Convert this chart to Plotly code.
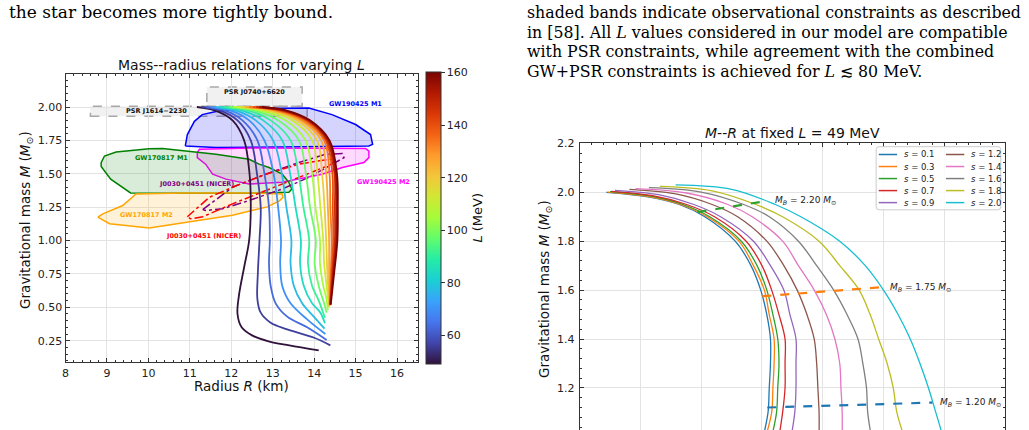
import plotly.graph_objects as go
from plotly.colors import sample_colorscale

W, H = 1029, 430


def fx(p):
    return p / W


def fy(p):
    return 1 - p / H


# ------------------------------------------------------------------
# Left panel: mass-radius curves for varying L
# ------------------------------------------------------------------
L_values = [49, 56, 63, 70, 77, 84, 91, 98, 105, 112, 119, 126, 133, 140, 147, 154, 160]
L_min, L_max = 49, 160

curve_R = [
    [11.17, 11.60, 12.03, 12.31, 12.44, 12.47, 12.43, 12.31, 12.19, 12.15, 12.25, 12.50, 12.90, 13.40, 14.11],
    [11.29, 11.72, 12.15, 12.47, 12.62, 12.71, 12.68, 12.64, 12.63, 12.71, 12.95, 13.35, 14.00, 14.39],
    [11.40, 11.84, 12.27, 12.63, 12.80, 12.91, 12.93, 12.91, 12.95, 13.07, 13.35, 13.83, 14.30],
    [11.51, 11.97, 12.43, 12.80, 13.02, 13.13, 13.20, 13.18, 13.23, 13.43, 13.83, 14.27],
    [11.62, 12.10, 12.59, 13.01, 13.22, 13.33, 13.45, 13.43, 13.51, 13.71, 13.99, 14.25],
    [11.73, 12.25, 12.77, 13.23, 13.42, 13.55, 13.68, 13.66, 13.75, 13.95, 14.15, 14.26],
    [11.84, 12.40, 12.95, 13.43, 13.62, 13.74, 13.88, 13.85, 13.95, 14.11, 14.26],
    [11.95, 12.54, 13.13, 13.63, 13.80, 13.90, 14.04, 14.01, 14.11, 14.24, 14.30],
    [12.05, 12.68, 13.31, 13.79, 13.95, 14.03, 14.14, 14.14, 14.22, 14.30, 14.33],
    [12.15, 12.81, 13.47, 13.95, 14.08, 14.15, 14.22, 14.24, 14.30, 14.36],
    [12.25, 12.92, 13.58, 14.07, 14.19, 14.25, 14.29, 14.32, 14.37],
    [12.34, 13.01, 13.67, 14.17, 14.29, 14.33, 14.36, 14.36, 14.37],
    [12.43, 13.09, 13.74, 14.24, 14.37, 14.39, 14.42, 14.40, 14.38],
    [12.52, 13.16, 13.80, 14.28, 14.44, 14.45, 14.46, 14.42, 14.38],
    [12.60, 13.22, 13.84, 14.31, 14.49, 14.50, 14.50, 14.44, 14.39],
    [12.67, 13.27, 13.87, 14.34, 14.52, 14.54, 14.53, 14.46, 14.39],
    [12.74, 13.32, 13.90, 14.37, 14.55, 14.57, 14.56, 14.48, 14.40],
]
curve_M = [
    [2.00, 1.975, 1.90, 1.75, 1.50, 1.25, 1.00, 0.80, 0.60, 0.45, 0.35, 0.29, 0.245, 0.215, 0.178],
    [2.00, 1.975, 1.90, 1.75, 1.50, 1.25, 1.00, 0.75, 0.56, 0.46, 0.385, 0.335, 0.272, 0.215],
    [2.00, 1.975, 1.90, 1.75, 1.50, 1.25, 1.00, 0.83, 0.66, 0.53, 0.43, 0.35, 0.255],
    [2.00, 1.975, 1.90, 1.75, 1.50, 1.25, 1.00, 0.83, 0.66, 0.53, 0.41, 0.30],
    [2.00, 1.975, 1.90, 1.75, 1.50, 1.25, 1.00, 0.83, 0.66, 0.53, 0.43, 0.34],
    [2.00, 1.975, 1.90, 1.75, 1.50, 1.25, 1.00, 0.83, 0.66, 0.53, 0.46, 0.38],
    [2.00, 1.975, 1.90, 1.75, 1.50, 1.25, 1.00, 0.83, 0.66, 0.55, 0.42],
    [2.00, 1.975, 1.90, 1.75, 1.50, 1.25, 1.00, 0.83, 0.66, 0.53, 0.46],
    [2.00, 1.975, 1.90, 1.75, 1.50, 1.25, 1.00, 0.83, 0.66, 0.56, 0.48],
    [2.00, 1.975, 1.90, 1.75, 1.50, 1.25, 1.00, 0.83, 0.66, 0.50],
    [2.00, 1.975, 1.90, 1.75, 1.50, 1.25, 1.00, 0.75, 0.51],
    [2.00, 1.975, 1.90, 1.75, 1.50, 1.25, 1.00, 0.75, 0.51],
    [2.00, 1.975, 1.90, 1.75, 1.50, 1.25, 1.00, 0.75, 0.52],
    [2.00, 1.975, 1.90, 1.75, 1.50, 1.25, 1.00, 0.75, 0.52],
    [2.00, 1.975, 1.90, 1.75, 1.50, 1.25, 1.00, 0.75, 0.52],
    [2.00, 1.975, 1.90, 1.75, 1.50, 1.25, 1.00, 0.75, 0.52],
    [2.00, 1.975, 1.90, 1.75, 1.50, 1.25, 1.00, 0.75, 0.52],
]

# observational constraints (R in km, M in Msun)
psr_j1614_R = [8.60, 13.83]
psr_j1614_M = [1.93, 2.005]
psr_j0740_R = [11.41, 13.71]
psr_j0740_M = [2.005, 2.15]

gw190425_m1_R = [10.89, 10.94, 11.11, 11.30, 11.63, 12.27, 13.87, 14.43, 15.00, 15.36, 15.41, 15.32, 13.23, 11.62, 10.89]
gw190425_m1_M = [1.708, 1.794, 1.893, 1.943, 1.967, 1.987, 1.993, 1.943, 1.869, 1.794, 1.720, 1.708, 1.700, 1.696, 1.708]

gw190425_m2_R = [11.18, 11.23, 12.51, 15.24, 15.32, 15.32, 15.20, 14.68, 14.19, 13.23, 12.43, 11.87, 11.55, 11.38, 11.18, 11.18]
gw190425_m2_M = [1.659, 1.683, 1.694, 1.690, 1.670, 1.621, 1.584, 1.547, 1.497, 1.436, 1.423, 1.460, 1.497, 1.572, 1.621, 1.659]

gw170817_m1_R = [8.86, 8.94, 9.22, 10.02, 10.34, 11.14, 11.63, 12.43, 12.67, 12.91, 13.23, 13.39, 13.46, 13.39, 12.43, 9.57, 9.09, 8.86, 8.86]
gw170817_m1_M = [1.584, 1.633, 1.663, 1.688, 1.690, 1.666, 1.646, 1.609, 1.572, 1.547, 1.497, 1.436, 1.386, 1.362, 1.354, 1.357, 1.460, 1.555, 1.584]

gw170817_m2_R = [8.78, 8.90, 9.38, 9.70, 10.82, 12.51, 13.23, 13.25, 13.16, 12.87, 12.03, 11.00, 10.02, 9.06, 8.78]
gw170817_m2_M = [1.176, 1.200, 1.262, 1.349, 1.356, 1.356, 1.349, 1.324, 1.297, 1.252, 1.190, 1.140, 1.094, 1.126, 1.176]

nicer_purple_R = [11.31, 12.03, 12.83, 13.63, 14.27, 14.68, 14.72, 14.43, 13.87, 13.23, 12.43, 11.79, 11.38, 11.31]
nicer_purple_M = [1.232, 1.399, 1.497, 1.584, 1.646, 1.651, 1.621, 1.572, 1.473, 1.386, 1.300, 1.238, 1.225, 1.232]

nicer_red_R = [10.94, 11.47, 12.11, 12.83, 13.63, 14.36, 14.51, 14.39, 13.63, 12.83, 12.03, 11.31, 11.02, 10.94]
nicer_red_M = [1.178, 1.324, 1.410, 1.497, 1.572, 1.609, 1.605, 1.568, 1.473, 1.373, 1.275, 1.178, 1.163, 1.178]

# ------------------------------------------------------------------
# Right panel: M-R at fixed L = 49 MeV for several s
# ------------------------------------------------------------------
s_values = [0.1, 0.3, 0.5, 0.7, 0.9, 1.2, 1.4, 1.6, 1.8, 2.0]
s_colors = ["#1f77b4", "#ff7f0e", "#2ca02c", "#d62728", "#9467bd",
            "#8c564b", "#e377c2", "#7f7f7f", "#bcbd22", "#17becf"]
s_peak_M = [2.000, 2.001, 2.003, 2.004, 2.008, 2.012, 2.015, 2.019, 2.024, 2.030]
s_second_M = [1.982, 1.983, 1.985, 1.986, 1.990, 1.994, 1.997, 2.001, 2.006, 2.012]
s_common_M = [1.95, 1.90, 1.80, 1.70, 1.60, 1.50, 1.40, 1.30, 1.20, 1.10, 1.00]
s_R = [
    [11.22, 11.55, 11.82, 12.03, 12.28, 12.41, 12.49, 12.54, 12.57, 12.57, 12.56, 12.55, 12.51],
    [11.23, 11.56, 11.83, 12.05, 12.31, 12.43, 12.52, 12.56, 12.60, 12.60, 12.59, 12.58, 12.53],
    [11.25, 11.58, 11.85, 12.07, 12.33, 12.46, 12.54, 12.59, 12.63, 12.64, 12.63, 12.62, 12.58],
    [11.26, 11.60, 11.88, 12.11, 12.37, 12.50, 12.58, 12.64, 12.69, 12.69, 12.69, 12.67, 12.64],
    [11.29, 11.65, 11.94, 12.16, 12.43, 12.57, 12.68, 12.73, 12.78, 12.78, 12.78, 12.77, 12.74],
    [11.41, 11.78, 12.09, 12.30, 12.54, 12.68, 12.79, 12.87, 12.93, 12.95, 12.96, 12.97, 12.97],
    [11.46, 11.88, 12.22, 12.42, 12.67, 12.80, 12.93, 13.03, 13.10, 13.14, 13.15, 13.16, 13.16],
    [11.57, 12.00, 12.35, 12.56, 12.80, 12.95, 13.09, 13.20, 13.29, 13.33, 13.36, 13.37, 13.40],
    [11.66, 12.09, 12.45, 12.67, 12.97, 13.14, 13.30, 13.39, 13.46, 13.53, 13.58, 13.61, 13.67],
    [11.79, 12.25, 12.61, 12.82, 13.14, 13.35, 13.50, 13.62, 13.72, 13.80, 13.87, 13.93, 13.99],
]

mb_values = ["2.20", "1.75", "1.20"]
mb_colors = ["#2ca02c", "#ff7f0e", "#1f77b4"]
mb_R = [[11.97, 12.544], [12.503, 13.486], [12.544, 13.902]]
mb_M = [[1.919, 1.965], [1.575, 1.612], [1.120, 1.140]]

# ------------------------------------------------------------------
FONT = "DejaVu Sans"
AX = "#333333"
GRID = "#e3e3e3"

fig = go.Figure()

# constraint regions
regions = [
    (gw190425_m1_R, gw190425_m1_M, "#0000ff", "rgba(0,0,255,0.17)"),
    (gw190425_m2_R, gw190425_m2_M, "#ff00ff", "rgba(255,0,255,0.15)"),
    (gw170817_m1_R, gw170817_m1_M, "#008000", "rgba(0,128,0,0.15)"),
    (gw170817_m2_R, gw170817_m2_M, "#ffa500", "rgba(255,165,0,0.15)"),
]
for rr, mm, lc, fc in regions:
    fig.add_trace(go.Scatter(x=rr, y=mm, mode="lines", fill="toself", fillcolor=fc,
                             line=dict(color=lc, width=1.5), showlegend=False,
                             hoverinfo="skip", xaxis="x", yaxis="y"))

for rr, mm, lc in [(nicer_purple_R, nicer_purple_M, "#800080"),
                   (nicer_red_R, nicer_red_M, "#ff0000")]:
    fig.add_trace(go.Scatter(x=rr, y=mm, mode="lines",
                             line=dict(color=lc, width=1.5, dash="dashdot"),
                             showlegend=False, hoverinfo="skip", xaxis="x", yaxis="y"))

# L curves
norm = [(v - L_min) / (L_max - L_min) for v in L_values]
L_colors = sample_colorscale("Turbo", norm)
for rr, mm, col in zip(curve_R, curve_M, L_colors):
    fig.add_trace(go.Scatter(x=rr, y=mm, mode="lines", line=dict(color=col, width=1.8, shape="spline"),
                             showlegend=False, hoverinfo="skip", xaxis="x", yaxis="y"))

# colorbar carrier
fig.add_trace(go.Scatter(
    x=[None], y=[None], mode="markers", xaxis="x", yaxis="y", showlegend=False, hoverinfo="skip",
    marker=dict(color=[L_min], colorscale="Turbo", cmin=L_min, cmax=L_max, showscale=True, size=1,
                colorbar=dict(x=fx(424.3), xanchor="left", xpad=0, ypad=0, thickness=15,
                              lenmode="pixels", len=292, y=fy(215.5), yanchor="middle",
                              outlinewidth=1, outlinecolor=AX,
                              tickvals=[60, 80, 100, 120, 140, 160], ticks="outside", ticklen=3.5,
                              tickcolor=AX, tickfont=dict(family=FONT, size=11, color="#222"),
                              title=dict(text="")))))

# right panel curves
for rr, pk, sc, col in zip(s_R, s_peak_M, s_second_M, s_colors):
    fig.add_trace(go.Scatter(x=rr, y=[pk, sc] + s_common_M, mode="lines",
                             line=dict(color=col, width=1.3, shape="spline"),
                             showlegend=False, hoverinfo="skip", xaxis="x2", yaxis="y2"))

for rr, mm, col in zip(mb_R, mb_M, mb_colors):
    fig.add_trace(go.Scatter(x=rr, y=mm, mode="lines", line=dict(color=col, width=2.2, dash="dash"),
                             showlegend=False, hoverinfo="skip", xaxis="x2", yaxis="y2"))

# ------------------------------------------------------------------
shapes = []
annotations = []

# PSR bands
for rr, mm in [(psr_j1614_R, psr_j1614_M), (psr_j0740_R, psr_j0740_M)]:
    shapes.append(dict(type="rect", xref="x", yref="y", x0=rr[0], x1=rr[1], y0=mm[0], y1=mm[1],
                       fillcolor="rgba(215,215,215,0.35)", line=dict(color="#a8a8a8", width=1.5, dash="dash"),
                       layer="below"))

region_labels = [
    ("PSR J1614\u22122230", 10.20, 1.972, "#111111"),
    ("PSR J0740+6620", 12.57, 2.112, "#111111"),
    ("GW190425 M1", 15.00, 2.025, "#0000ff"),
    ("GW190425 M2", 15.67, 1.436, "#ff00ff"),
    ("GW170817 M1", 10.32, 1.620, "#008000"),
    ("GW170817 M2", 9.96, 1.195, "#ffa500"),
    ("J0030+0451 (NICER)", 11.17, 1.423, "#800080"),
    ("J0030+0451 (NICER)", 11.32, 1.035, "#ff0000"),
]
for txt, xx, yy, col in region_labels:
    annotations.append(dict(text="<b>" + txt + "</b>", x=xx, y=yy, xref="x", yref="y", showarrow=False,
                            xanchor="center", yanchor="middle",
                            font=dict(family=FONT, size=6.5, color=col)))

# M_B labels
for val, rr, mm in zip(mb_values, mb_R, mb_M):
    annotations.append(dict(text="<i>M<sub>B</sub></i> = " + val + " <i>M</i><sub>\u2299</sub>",
                            x=rr[1], y=mm[1], xref="x2", yref="y2", xanchor="left", yanchor="middle",
                            xshift=6, showarrow=False, font=dict(family=FONT, size=9, color="#222")))


def pann(text, px, py, size, angle=0, color="#111", xanchor="center", family=FONT):
    return dict(text=text, x=fx(px), y=fy(py), xref="paper", yref="paper", xanchor=xanchor,
                yanchor="middle", textangle=angle, showarrow=False,
                font=dict(family=family, size=size, color=color))


# titles and axis labels
annotations += [
    pann("Mass--radius relations for varying <i>L</i>", 239.4, 60, 14),
    pann("Radius <i>R</i> (km)", 239, 385, 13.5),
    pann("Gravitational mass <i>M</i> (<i>M</i><sub>\u2299</sub>)", 23, 217, 13.5, angle=-90),
    pann("<i>L</i> (MeV)", 475, 215, 13, angle=-90),
    pann("<i>M</i>--<i>R</i> at fixed <i>L</i> = 49 MeV", 791.7, 129, 14),
    pann("Gravitational mass <i>M</i> (<i>M</i><sub>\u2299</sub>)", 543.5, 287, 13.5, angle=-90),
]

# manual legend box (rounded) for right panel
lg_x0, lg_x1, lg_y0, lg_y1 = 875.7, 1000.7, 142.7, 206.7
X0, X1, YB, YT = fx(lg_x0), fx(lg_x1), fy(lg_y1), fy(lg_y0)
rx, ry = 3 / W, 3 / H
legend_path = (f"M {X0 + rx},{YT} L {X1 - rx},{YT} Q {X1},{YT} {X1},{YT - ry} "
               f"L {X1},{YB + ry} Q {X1},{YB} {X1 - rx},{YB} L {X0 + rx},{YB} Q {X0},{YB} {X0},{YB + ry} "
               f"L {X0},{YT - ry} Q {X0},{YT} {X0 + rx},{YT} Z")
shapes.append(dict(type="path", path=legend_path, xref="paper", yref="paper",
                   fillcolor="rgba(255,255,255,0.85)", line=dict(color="#cccccc", width=1), layer="above"))
for i, (sv, col) in enumerate(zip(s_values, s_colors)):
    col_i, row_i = divmod(i, 5)
    yy = 150.6 + 12.2 * row_i
    lx0 = 878.3 + 67.4 * col_i
    shapes.append(dict(type="line", xref="paper", yref="paper", x0=fx(lx0), x1=fx(lx0 + 18.4),
                       y0=fy(yy), y1=fy(yy), line=dict(color=col, width=1.5), layer="above"))
    annotations.append(pann("<i>s</i> = %.1f" % sv, lx0 + 23.5, yy, 8.5, color="#222", xanchor="left"))

# paper text
SERIF = "DejaVu Serif"
annotations.append(pann("the star becomes more tightly bound.", 4, 6.5, 17, color="#000",
                        xanchor="left", family=SERIF))
para = [
    "shaded bands indicate observational constraints as described",
    "in [58]. All <i>L</i> values considered in our model are compatible",
    "with PSR constraints, while agreement with the combined",
    "GW+PSR constraints is achieved for <i>L</i> \u2272 80 MeV.",
]
for i, line in enumerate(para):
    annotations.append(pann(line, 524, 6.5 + 20 * i, 15.8, color="#000", xanchor="left", family=SERIF))

axis_common = dict(showline=True, linecolor=AX, linewidth=1, ticks="inside", ticklen=4, tickwidth=1,
                   tickcolor=AX, showgrid=True, gridcolor=GRID, gridwidth=1, zeroline=False,
                   tickfont=dict(family=FONT, size=11, color="#222"))

fig.update_layout(
    width=W, height=H, margin=dict(l=0, r=0, t=0, b=0),
    paper_bgcolor="white", plot_bgcolor="white", showlegend=False,
    xaxis=dict(domain=[fx(62.7), fx(416)], range=[8, 16.5], dtick=1, mirror="allticks",
               minor=dict(ticks="inside", ticklen=2, tickcolor=AX, dtick=0.2, showgrid=False),
               anchor="y", **axis_common),
    yaxis=dict(domain=[fy(361.5), fy(69)], range=[0.087, 2.247], dtick=0.25, tick0=0, tickformat=".2f",
               mirror="allticks",
               minor=dict(ticks="inside", ticklen=2, tickcolor=AX, dtick=0.05, showgrid=False),
               anchor="x", **axis_common),
    xaxis2=dict(domain=[fx(578.3), fx(1005)], range=[11.0, 14.5], dtick=0.5, tick0=11, side="top",
                showticklabels=False, mirror=False,
                minor=dict(ticks="inside", ticklen=2, tickcolor=AX, dtick=0.1, showgrid=False),
                anchor="y2", **axis_common),
    yaxis2=dict(domain=[0, fy(139.3)], range=[1.028, 2.2], dtick=0.2, tick0=0, tickformat=".1f",
                mirror="allticks", ticklabelstandoff=2,
                minor=dict(ticks="inside", ticklen=2, tickcolor=AX, dtick=0.04, showgrid=False),
                anchor="x2", **axis_common),
    shapes=shapes,
    annotations=annotations,
)

fig.write_html("out.html")
